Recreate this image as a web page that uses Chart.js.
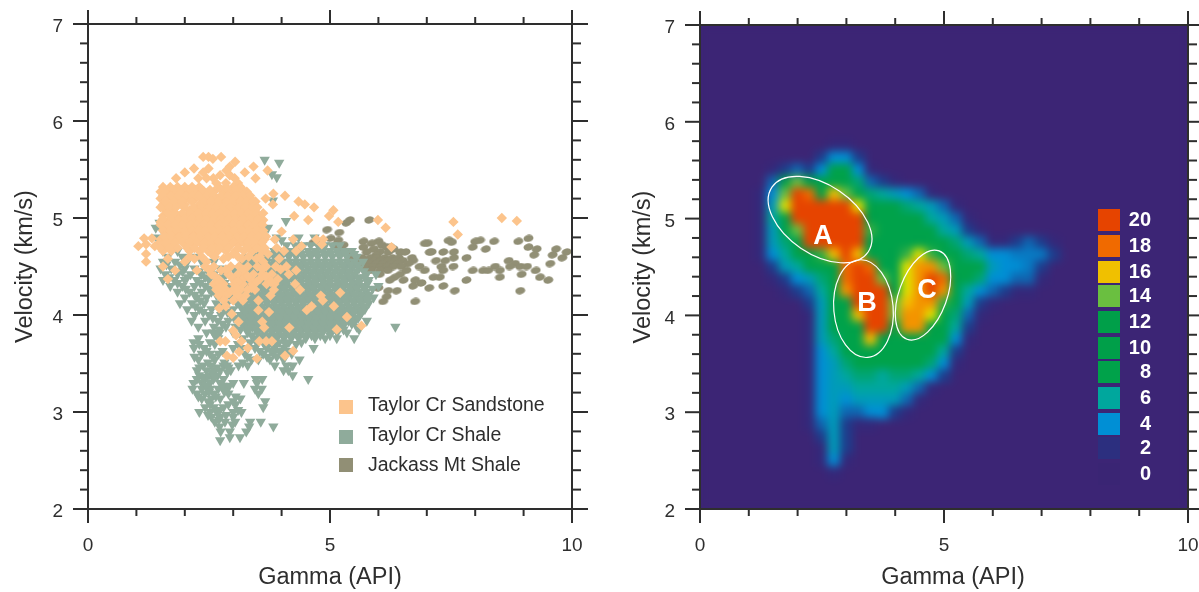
<!DOCTYPE html>
<html><head><meta charset="utf-8">
<script src="https://cdn.jsdelivr.net/npm/chart.js@4"></script>
<style>html,body{margin:0;padding:0;background:#fff;overflow:hidden}
#a,#b{position:absolute;top:0}#a{left:0}#b{left:600px}</style></head>
<body><canvas id="a" width="600" height="592"></canvas><canvas id="b" width="599" height="592"></canvas>
<script>
const xTitle='Gamma (API)', yTitle='Velocity (km/s)';
const xTickLabels=[0,5,10], yTickLabels=[2,3,4,5,6,7];
const seriesNames=['Taylor Cr Sandstone','Taylor Cr Shale','Jackass Mt Shale'];
const seriesColors=['#fcc48c','#8fab9b','#918f75'];

// rows: [velocity, [gamma, gamma, ...]]
const sandstoneRows=[
[5.63,[2.38,2.49,2.75]],[5.61,[2.58]],[5.58,[3.04]],[5.53,[2.93,3.42]],[5.51,[2.19,2.49]],[5.49,[2.86,3.71]],[5.47,[2.0,2.38,3.24]],[5.44,[2.73,2.93]],
[5.41,[1.82,2.28,2.45,2.59,3.03,3.46]],[5.36,[2.65,2.85,3.1]],[5.32,[1.55,1.7,1.85,2.0,2.15,2.3,2.7,2.85,3.0,3.15]],
[5.27,[1.5,1.65,1.8,1.95,2.1,2.25,2.4,2.6,2.8,2.95,3.1,3.28]],[5.25,[3.83]],[5.23,[4.07]],[5.2,[3.67,1.5,1.62,1.78,1.92,2.08,2.22,2.38,2.52,2.68,2.82,2.98,3.12,3.3]],
[5.17,[3.46,4.35]],[5.14,[1.55,1.7,1.85,2.0,2.3,2.45,2.6,2.75,2.9,3.05,3.2,3.35,3.82,4.48]],[5.11,[4.67]],[5.08,[1.6,1.75,2.1,2.25,2.4,2.55,2.7,2.85,3.0,3.15,3.3,3.45,5.07]],
[5.02,[1.55,1.72,1.88,2.02,2.18,2.33,2.48,2.63,2.78,2.93,3.08,3.23,3.38,3.53,4.26,4.98]],[4.98,[4.55,5.99,3.62]],[4.96,[5.17,1.5,1.65,1.8,1.95,2.1,2.25,2.4,2.55,2.7,2.85,3.0,3.15,3.3,3.45,3.58,7.55]],
[5.0,[8.55]],[4.97,[8.86]],[4.9,[1.58,1.72,1.88,2.02,2.18,2.32,2.48,2.62,2.78,2.92,3.08,3.22,3.38,3.52,6.15]],[4.86,[4.0]],
[4.84,[1.6,1.75,1.9,2.05,2.2,2.35,2.5,2.65,2.8,2.95,3.1,3.25,3.4,3.55]],[4.83,[7.64]],[4.78,[1.5,1.6,1.75,1.9,2.15,2.3,2.45,2.6,2.75,2.9,3.05,3.2,3.35,3.5,3.65,3.86,4.24,4.72,4.86]],
[4.79,[1.32,1.16]],[4.73,[1.2,1.45,1.6,1.75,2.0,2.2,2.35,2.5,2.65,2.8,2.95,3.1,3.25,3.4,3.55,4.83]],[4.71,[1.04,1.38,4.41]],[4.7,[6.27]],
[4.66,[1.55,1.72,2.1,2.3,2.48,2.68,2.85,3.05,3.22,3.4,3.6,4.05,4.3]],[4.63,[1.2,2.55,3.0,3.72]],[4.58,[1.65,2.2,2.8,3.18,3.48,3.95]],[4.55,[1.2,2.0,2.45,3.62]],
[4.5,[1.55,2.42,2.6,2.95,3.12,3.3,3.5,3.68,3.88,4.1]],[4.46,[1.8,2.25,2.75,4.3]],[4.42,[2.55,2.9,3.1,3.25,3.42,3.6,3.8,4.15]],[4.37,[1.65,2.7,3.0,3.2,3.35,3.55,3.72,3.92]],
[4.32,[2.6,2.8,3.02,3.2,3.4,3.69,3.85,4.28]],[4.26,[2.65,2.85,3.0,3.15,3.3,3.45,3.84,4.38]],[4.23,[2.75,2.92,3.06,5.21]],[4.2,[2.7,2.85,3.1,3.25,3.77,4.81]],
[4.15,[2.8,3.0,3.2,3.52,4.85]],[4.09,[4.62,5.08,2.85]],[4.07,[2.71]],[4.05,[3.52,4.52]],[4.03,[3.74]],[4.01,[2.97]],[3.98,[5.35]],[3.93,[3.11,3.6]],
[3.89,[5.65]],[3.87,[3.64,4.16]],[3.85,[5.14]],[3.84,[3.0]],[3.79,[3.06]],[3.73,[3.17,2.84,2.73,3.54,3.68,3.8]],[3.66,[3.3]],[3.63,[4.24]],[3.62,[3.12]],[3.58,[2.87,4.07]],[3.56,[3.0]],[3.55,[3.49]],
[5.29,[1.58,1.76,1.93,2.08,2.22,2.36,2.52,2.75,2.9,3.05,3.2]],[5.23,[1.55,1.72,1.87,2.02,2.16,2.3,2.45,2.6,2.75,2.9,3.05,3.2,3.35]],[5.17,[1.6,1.78,1.95,2.15,2.4,2.55,2.7,2.85,3.0,3.15,3.28,3.42]],
[5.11,[1.5,1.68,1.82,1.98,2.18,2.35,2.5,2.65,2.8,2.95,3.1,3.25,3.4,3.5]],[5.05,[1.65,1.8,1.95,2.12,2.28,2.43,2.58,2.72,2.88,3.02,3.18,3.32,3.48,3.62]],[4.99,[1.55,1.72,1.87,2.0,2.15,2.3,2.45,2.6,2.75,2.9,3.05,3.2,3.35,3.5]],
[4.93,[1.5,1.65,1.8,1.95,2.12,2.25,2.4,2.55,2.7,2.85,3.0,3.15,3.3,3.45,3.6]],[4.87,[1.55,1.7,1.85,2.0,2.15,2.28,2.42,2.58,2.72,2.88,3.02,3.18,3.32,3.48,3.62]],[4.81,[1.58,1.72,1.88,2.02,2.18,2.32,2.48,2.62,2.78,2.92,3.08,3.22,3.38,3.52,3.68]],
[4.75,[1.62,1.8,1.95,2.1,2.25,2.4,2.55,2.7,2.85,3.0,3.15,3.3,3.45,3.6]],[4.69,[1.5,1.68,1.85,2.05,2.2,2.38,2.55,2.72,2.9,3.1,3.28,3.48,3.65,3.9]],[4.6,[2.1,2.35,2.62,2.9,3.1,3.32,3.55]],
[4.47,[2.5,2.85,3.2,3.6,3.98]],[4.4,[2.62,2.95,3.3,3.68]],[4.34,[2.7,3.1,3.48,3.78]],[4.28,[2.72,3.08,3.38]]
];
const shaleRows=[
[5.6,[3.65]],[5.57,[3.95]],[5.45,[3.8]],[5.42,[3.9]],[5.18,[3.82]],[4.97,[4.09]],[4.95,[1.48,1.6]],[4.9,[1.5,3.72,1.4]],[4.8,[3.9,4.35,4.68,1.42]],[4.77,[4.0,4.24]],
[4.72,[1.5,4.1,4.28,4.45,4.6,4.75,4.9,5.05,5.2,1.72]],[4.66,[1.55,1.85,3.62,3.85,4.05,4.2,4.38,4.55,4.7,4.85,5.0,5.15,5.3,5.45]],
[4.6,[1.65,1.95,2.2,3.3,3.5,3.68,3.85,4.0,4.15,4.3,4.45,4.6,4.75,4.9,5.05,5.2,5.35,5.55]],
[4.55,[1.55,1.8,2.05,2.35,2.6,3.2,3.35,3.5,3.7,3.85,4.0,4.15,4.3,4.45,4.6,4.75,4.9,5.05,5.2,5.35,5.5,5.68]],
[4.48,[1.5,1.72,2.0,2.2,2.45,2.72,3.0,3.15,3.35,3.5,3.65,3.8,3.95,4.1,4.25,4.4,4.55,4.7,4.85,5.0,5.15,5.3,5.45,5.6]],
[4.42,[1.6,1.85,2.12,2.35,2.6,2.85,3.1,3.25,3.4,3.55,3.7,3.85,4.0,4.15,4.3,4.45,4.6,4.75,4.9,5.05,5.2,5.35,5.5,5.75,5.95]],
[4.36,[1.55,1.78,2.0,2.25,2.5,2.75,3.0,3.2,3.35,3.5,3.65,3.8,3.95,4.1,4.25,4.4,4.55,4.7,4.85,5.0,5.15,5.3,5.45,5.6,5.8]],
[4.3,[1.7,1.95,2.2,2.42,2.65,2.9,3.1,3.28,3.42,3.58,3.72,3.88,4.02,4.18,4.32,4.48,4.62,4.78,4.92,5.08,5.22,5.38,5.52,5.68,6.0]],
[4.24,[1.85,2.1,2.35,2.55,2.8,3.0,3.2,3.35,3.5,3.65,3.8,3.95,4.1,4.25,4.4,4.55,4.7,4.85,5.0,5.15,5.3,5.45,5.6,5.75]],
[4.18,[2.0,2.25,2.45,2.72,2.95,3.15,3.3,3.45,3.6,3.75,3.9,4.05,4.2,4.35,4.5,4.65,4.8,4.95,5.1,5.25,5.4,5.55,5.7,5.9]],
[4.12,[1.9,2.15,2.4,2.65,2.88,3.08,3.25,3.4,3.55,3.7,3.85,4.0,4.15,4.3,4.45,4.6,4.75,4.9,5.05,5.2,5.35,5.5,5.65,5.8]],
[4.06,[2.05,2.3,2.55,2.8,3.0,3.2,3.35,3.5,3.65,3.8,3.95,4.1,4.25,4.4,4.55,4.7,4.85,5.0,5.15,5.3,5.45,5.6,5.72]],
[4.0,[2.2,2.5,2.75,2.95,3.15,3.3,3.45,3.6,3.75,3.9,4.05,4.2,4.35,4.5,4.65,4.8,4.95,5.1,5.25,5.4,5.62]],
[3.94,[2.14,2.42,2.68,2.9,3.1,3.28,3.42,3.58,3.72,3.88,4.02,4.18,4.32,4.48,4.62,4.78,4.92,5.08,5.22,5.38,5.52,5.76]],
[3.88,[2.28,2.6,2.85,3.05,3.25,3.4,3.55,3.7,3.85,4.0,4.15,4.3,4.45,4.6,4.75,4.9,5.05,5.2,5.55,6.35]],
[3.82,[2.45,2.59,2.72,3.0,3.3,3.5,3.65,3.8,3.95,4.1,4.25,4.4,4.55,4.7,4.85,5.0,5.15,5.35]],
[3.76,[2.28,2.69,3.2,3.45,3.6,3.75,3.9,4.05,4.2,4.35,4.5,4.69,4.9,5.14,5.5]],[3.72,[2.18,2.52,3.35,3.62,3.78,3.95,4.15,4.41]],
[3.66,[2.19,2.4,3.0,3.17,3.45,3.69,3.85,4.05,4.66]],[3.6,[2.35,2.52,2.7,3.24,3.62,3.83,4.0,4.21]],[3.54,[2.28,2.62,3.38,3.52,3.76,4.04,4.37]],
[3.48,[2.38,2.55,2.8,2.87,3.11,3.3,3.86,4.1,4.23]],[3.43,[2.25,2.45,2.62,2.73,2.95,4.04,4.14]],[3.38,[2.3,2.5,2.68,4.23]],[3.34,[2.25,2.42,2.59,2.8,3.47,3.6,4.55]],
[3.3,[2.18,2.35,2.52,2.73,3.0,3.22,3.49]],[3.24,[2.16,2.35,2.52,2.69,2.87,3.45,3.59]],[3.19,[2.25,2.42,2.6,2.9,3.52]],[3.14,[2.35,2.55,2.73,3.15]],[3.11,[2.48,3.0,3.66]],
[3.05,[2.42,2.6,2.8,3.62]],[3.0,[2.3,2.52,2.66,3.0,3.17]],[2.95,[2.55,2.73,3.0]],[2.9,[2.62,2.83,3.04,3.35,3.57]],[2.85,[3.33,3.83,2.72]],
[2.8,[2.74,2.93,3.27]],[2.74,[2.93,3.14]],[2.71,[2.73]],
[4.63,[3.45,3.75,3.95,4.12,4.28,4.42,4.58,4.72,4.88,5.02,5.18,5.32,5.5]],[4.52,[3.28,3.42,3.58,3.78,3.92,4.08,4.22,4.38,4.52,4.68,4.82,4.98,5.12,5.28,5.42,5.58,1.62,1.9]],
[4.45,[1.95,2.3,2.55,3.05,3.2,3.45,3.6,3.75,3.9,4.05,4.2,4.35,4.5,4.65,4.8,4.95,5.1,5.25,5.4,5.55,5.7]],[4.39,[1.68,2.05,2.42,2.78,3.15,3.3,3.45,3.6,3.78,3.9,4.08,4.22,4.38,4.52,4.68,4.82,4.98,5.12,5.28,5.42,5.58,5.72]],
[4.33,[1.85,2.32,2.82,3.22,3.38,3.52,3.66,3.8,3.96,4.1,4.26,4.4,4.56,4.7,4.86,5.0,5.16,5.3,5.46,5.6,5.78]],[4.27,[2.02,2.5,2.95,3.15,3.3,3.45,3.62,3.76,3.92,4.06,4.22,4.36,4.52,4.66,4.82,4.96,5.12,5.26,5.42,5.56,5.72,5.88]],
[4.21,[2.2,2.65,3.08,3.25,3.4,3.55,3.7,3.85,4.0,4.15,4.3,4.45,4.6,4.75,4.9,5.05,5.2,5.35,5.5,5.65,5.8]],[4.15,[2.32,2.8,3.2,3.38,3.52,3.68,3.82,3.98,4.12,4.28,4.42,4.58,4.72,4.88,5.02,5.18,5.32,5.48,5.62,5.78]],
[4.09,[2.22,2.72,3.15,3.3,3.45,3.6,3.75,3.9,4.05,4.2,4.35,4.5,4.65,4.8,4.95,5.1,5.25,5.4,5.55,5.7]],[4.03,[2.38,2.88,3.25,3.38,3.55,3.7,3.85,4.0,4.15,4.3,4.45,4.6,4.75,4.9,5.05,5.2,5.35,5.5,5.66]],
[3.97,[2.58,3.02,3.2,3.36,3.52,3.66,3.82,3.96,4.12,4.26,4.42,4.56,4.72,4.86,5.02,5.16,5.32,5.46,5.58]],[3.91,[2.78,3.18,3.35,3.5,3.65,3.8,3.95,4.1,4.25,4.4,4.55,4.7,4.85,5.0,5.15,5.3,5.45]],
[3.85,[2.72,3.15,3.32,3.48,3.62,3.78,3.92,4.08,4.22,4.38,4.52,4.68,4.82,4.98,5.12,5.28,5.6]],[3.79,[2.62,3.38,3.55,3.72,3.88,4.02,4.18,4.32,4.48,4.62,4.8,5.0]],
[3.7,[2.3,2.62,3.1,3.5,3.7,3.9,4.08,4.3]],[3.63,[2.45,2.78,3.55,3.78,3.95,4.12]],[3.57,[2.2,2.58,3.3,3.7,3.9]],
[3.51,[2.48,2.82,3.2]],[3.46,[2.3,2.66,2.9]],[3.41,[2.56,2.88]],[3.36,[2.36,2.62]],[3.27,[2.44,2.78,2.92]],
[3.21,[2.5,2.82]],[3.16,[2.28,2.64,3.05]],[3.08,[2.52,2.9,3.05]],[3.02,[2.72,3.1]],[2.97,[2.48,2.85]],[2.92,[2.7]],[2.87,[2.98]]
];
const jackassRows=[
[4.98,[5.81,5.41]],[4.95,[5.34]],[4.88,[4.94]],[4.85,[5.19]],[4.79,[5.01,9.1]],[4.77,[5.17,8.1,7.45]],[4.76,[5.69,6.0,8.0,8.39,8.89]],[4.75,[4.72,4.66,7.52]],[4.74,[5.86,6.96,7.02]],
[4.72,[5.1,5.28,6.07]],[4.7,[5.69,6.17,6.25,7.95,9.1]],[4.68,[5.17,5.9,6.31,8.22,9.67,9.27]],[4.65,[5.31,5.76,6.03,6.21,6.45,6.56,7.1,7.06,7.34,7.56,9.89]],[4.62,[9.22,9.6,5.45,5.95]],
[4.59,[5.5,5.65,5.82,5.98,6.12,6.28,6.42,6.69,7.56,7.82,9.8]],[4.56,[5.42,5.58,5.72,5.9,6.05,6.2,6.35,6.5,6.72,7.19,7.38,8.69]],[4.53,[5.5,5.66,5.8,5.96,6.1,6.26,6.4,6.62,8.82,9.55]],
[4.5,[5.62,5.75,5.9,6.05,6.18,6.32,6.48,6.85,7.3,7.55,8.41,8.72,8.93,9.07]],[4.46,[5.85,6.03,6.2,6.58,6.96,7.34,7.95,8.16,8.27,8.51,9.25]],[4.42,[6.03,6.45,8.96]],
[4.39,[7.14,7.27,6.34,8.51,9.34]],[4.36,[6.24,6.52,6.76,7.82,9.51]],[4.33,[6.89]],[4.3,[7.34,6.72]],[4.28,[6.0,7.05]],[4.25,[6.38,7.58,6.2,8.93]],[4.19,[6.17]],[4.14,[6.1,6.76]]
];
const heatGamma=[1.25,1.5,1.75,2,2.25,2.5,2.75,3,3.25,3.5,3.75,4,4.25,4.5,4.75,5,5.25,5.5,5.75,6,6.25,6.5,6.75,7,7.25];
const heatVelocity=[5.75,5.625,5.5,5.375,5.25,5.125,5,4.875,4.75,4.625,4.5,4.375,4.25,4.125,4,3.875,3.75,3.625,3.5,3.375,3.25,3.125,3,2.875,2.75,2.625,2.5,2.375];
const heatRows=[
[0,0,0,0,0,0,1,1],
[0,0,0,0,0,2,4,4,2],
[0,1,2,3,2,4,8,8,4,1],
[0,3,8,14,9,9,10,10,7,3,2,1],
[1,4,14,20,18,12,16,14,10,7,6,5,4,3,1],
[1,5,15,20,20,20,20,20,15,9,8,8,7,6,5,3,1],
[1,6,10,20,20,20,20,20,20,11,8,8,8,8,6,5,3,1],
[1,5,8,14,20,20,20,20,20,13,8,8,8,8,8,6,5,2,1],
[1,5,7,9,20,20,20,20,20,11,8,8,8,9,8,8,7,5,3,1,1,2,3,2,1],
[1,4,6,8,9,13,16,20,16,10,8,9,13,15,13,8,8,7,6,4,4,3.5,3.5,3.5,2],
[0,2,5,6,8,8,11,18,20,18,10,9,15,17,17,14,8,8,8,5,4,4,3.5,2,0],
[0,1,2,4,5,7,8,18,20,20,14,10,15,17,20,18,9,8,7,4,4,3,3,1,0],
[0,0,1,2,3,6,8,17,20,20,20,12,15,17,20,17,8,6,4,3,2,1,1],
[0,0,0,0,2,5,8,10,20,20,20,14,16,17,17,13,8,5,2,1],
[0,0,0,0,1,5,8,8,16,20,20,14,17,17,15,8,7,3,1],
[0,0,0,0,1,5,8,8,11,20,20,12,17,17,12,8,6,2],
[0,0,0,0,1,5,7,8,8,16,12,8,9,9,8,8,4,1],
[0,0,0,0,1,4,6,8,8,8,8,8,8,8,8,6,2],
[0,0,0,0,1,4,5,7,8,8,8,8,8,8,7,4,1],
[0,0,0,0,1,4,5,6,7,7,6,7,7,6,4,2],
[0,0,0,0,1,4,5,5,6,6,6,6,5,3,1],
[0,0,0,0,1,4,5,4,5,5,5,5,3,1],
[0,0,0,0,1,4,5,3,3,4,4,2,1],
[0,0,0,0,1,3,5,2,1,1],
[0,0,0,0,0,2,5,2],
[0,0,0,0,0,1,5,2],
[0,0,0,0,0,1,4,1],
[0,0,0,0,0,0,1]
];
const scaleLevels=[20,18,16,14,12,10,8,6,4,2,0];
const scaleColors=['#e64400','#f06a00','#f0c000','#6abf40','#009f49','#009f49','#00a24a','#00a79d','#008fd5','#2c2f7f','#3a2574'];
const zones=[{t:'A',g:2.46,v:4.99,a:58,b:34.5,r:34,lx:823,ly:237},{t:'B',g:3.35,v:4.07,a:29.7,b:49,r:-5,lx:867,ly:304},{t:'C',g:4.57,v:4.21,a:24,b:47,r:20,lx:927,ly:291}];

const FONT='"Liberation Sans",Arial,sans-serif', INK='#2e2e2e';
const flat=rows=>rows.flatMap(([v,gs])=>gs.map(g=>({x:g,y:v})));
const stops=[[0,[60,37,117]],[1,[52,40,122]],[2,[30,60,140]],[4,[0,143,213]],[6,[0,167,157]],[8,[0,162,74]],[12,[0,159,73]],[14,[106,191,64]],[15,[225,225,0]],[16,[245,190,0]],[18,[240,106,0]],[20,[230,68,0]]];
function colorOf(v){for(let i=1;i<stops.length;i++){if(v<=stops[i][0]){const[a,c]=stops[i-1],[b,d]=stops[i],t=(v-a)/(b-a);return`rgb(${c.map((q,k)=>Math.round(q+(d[k]-q)*t)).join(',')})`}}return'rgb(230,68,0)'}
const oval=document.createElement('canvas');oval.width=11;oval.height=8;{const o=oval.getContext('2d');o.fillStyle=seriesColors[2];o.beginPath();o.ellipse(5.5,4,5,3.6,-0.2,0,2*Math.PI);o.fill()}

const frame={id:'frame',afterDatasetsDraw(chart){
  const{ctx,chartArea:c,scales:{x,y}}=chart;ctx.save();ctx.strokeStyle=INK;ctx.lineWidth=2;ctx.lineCap='butt';
  const seg=(a,b,d,e)=>{ctx.beginPath();ctx.moveTo(a,b);ctx.lineTo(d,e);ctx.stroke()};
  seg(c.left-15,c.bottom,c.right+16,c.bottom);seg(c.left-15,c.top,c.right+16,c.top);
  seg(c.left,c.top-14,c.left,c.bottom+14);seg(c.right,c.top-14,c.right,c.bottom+14);
  for(let g=1;g<10;g++){const p=x.getPixelForValue(g),l=g===5?14:7;seg(p,c.bottom,p,c.bottom+l);seg(p,c.top,p,c.top-l)}
  for(let i=1;i<25;i++){const v=2+i*.2,p=y.getPixelForValue(v),l=i%5===0?15:8;seg(c.left,p,c.left-l,p);seg(c.right,p,c.right+l+1,p)}
  ctx.restore();
}};
const zeroPad=s=>{s.paddingLeft=s.paddingRight=s.paddingTop=s.paddingBottom=0};
function axes(opt){return{
  x:{type:'linear',min:0,max:10,afterBuildTicks:s=>{s.ticks=xTickLabels.map(value=>({value}))},afterFit:s=>{s.height=83;zeroPad(s)},
     grid:{display:false,drawTicks:false},border:{display:false},ticks:{padding:25,color:INK,font:{family:FONT,size:19},maxRotation:0,autoSkip:false},
     title:{display:true,text:xTitle,color:INK,font:{family:FONT,size:23.5},padding:{top:0,bottom:0}}},
  y:{type:'linear',min:2,max:7,afterBuildTicks:s=>{s.ticks=yTickLabels.map(value=>({value}))},afterFit:s=>{s.width=opt.left;zeroPad(s)},
     grid:{display:false,drawTicks:false},border:{display:false},ticks:{padding:25,labelOffset:3,color:INK,font:{family:FONT,size:19},autoSkip:false},
     title:{display:true,text:yTitle,color:INK,font:{family:FONT,size:23.5},padding:{top:opt.yt,bottom:0}}}
}}
const leftLegend={id:'leftLegend',afterDraw(chart){const{ctx}=chart;ctx.save();ctx.textBaseline='middle';ctx.font=`19.5px ${FONT}`;
  const ys=[407,437,465];seriesNames.forEach((n,i)=>{ctx.fillStyle=seriesColors[i];ctx.fillRect(339,ys[i]-7,14,14);ctx.fillStyle=INK;ctx.fillText(n,368,ys[i]-1+(i==2?2:0))});ctx.restore()}};
new Chart(document.getElementById('a'),{type:'scatter',
 data:{datasets:[
  {label:seriesNames[0],data:flat(sandstoneRows),pointStyle:'rectRot',pointRadius:5.2,backgroundColor:seriesColors[0],borderWidth:0},
  {label:seriesNames[1],data:flat(shaleRows),pointStyle:'triangle',pointRotation:180,pointRadius:6,backgroundColor:seriesColors[1],borderWidth:0},
  {label:seriesNames[2],data:flat(jackassRows),pointStyle:oval,pointRadius:4,backgroundColor:seriesColors[2],borderWidth:0}]},
 options:{responsive:false,animation:false,layout:{padding:{left:0,top:24,right:28,bottom:0}},scales:axes({left:88,yt:11}),plugins:{legend:{display:false},tooltip:{enabled:false}}},
 plugins:[frame,leftLegend]});

const heatCells=heatRows.flatMap((row,j)=>row.map((d,i)=>({x:heatGamma[i],y:heatVelocity[j],d})).filter(p=>p.d>0));
const heatPlugin={id:'heat',
 beforeDatasetsDraw(chart){const{ctx,chartArea:c}=chart;ctx.save();ctx.fillStyle=colorOf(0);ctx.fillRect(c.left,c.top,c.width,c.height);ctx.restore()},
 afterDatasetsDraw(chart){const{ctx,chartArea:c}=chart;ctx.save();ctx.beginPath();ctx.rect(c.left,c.top,c.width,c.height);ctx.clip();ctx.filter='blur(4.5px)';ctx.drawImage(chart.canvas,0,0);ctx.restore();
  ctx.save();ctx.strokeStyle='#fff';ctx.lineWidth=1.2;
  zones.forEach(z=>{ctx.beginPath();ctx.ellipse(chart.scales.x.getPixelForValue(z.g),chart.scales.y.getPixelForValue(z.v),z.a,z.b,z.r*Math.PI/180,0,2*Math.PI);ctx.stroke()});
  ctx.fillStyle='#fff';ctx.font=`bold 27px ${FONT}`;ctx.textAlign='center';ctx.textBaseline='middle';zones.forEach(z=>ctx.fillText(z.t,z.lx-600,z.ly));
  const tops=[209,235,261,285,311,337,361,387,413,437,463];
  ctx.font=`bold 20px ${FONT}`;ctx.textAlign='right';
  scaleLevels.forEach((l,i)=>{ctx.fillStyle=scaleColors[i];ctx.fillRect(498,tops[i],22,22);ctx.fillStyle='#fff';ctx.fillText(String(l),551,tops[i]+11)});
  ctx.restore()}};
const shiftTitle={id:'shiftTitle',afterLayout(chart){const s=chart.scales.x;if(s._shifted)return;s._shifted=1;const o=s.drawTitle;s.drawTitle=function(){chart.ctx.save();chart.ctx.translate(9,0);o.call(this);chart.ctx.restore()}}};
new Chart(document.getElementById('b'),{type:'scatter',
 data:{datasets:[{label:'Density',data:heatCells,pointStyle:'rect',pointRadius:9.4,borderWidth:0,backgroundColor:c=>colorOf(c.raw?c.raw.d:0)}]},
 options:{responsive:false,animation:false,layout:{padding:{left:0,top:25,right:11,bottom:0}},scales:axes({left:100,yt:29}),plugins:{legend:{display:false},tooltip:{enabled:false}}},
 plugins:[heatPlugin,frame,shiftTitle]});
</script></body></html>
